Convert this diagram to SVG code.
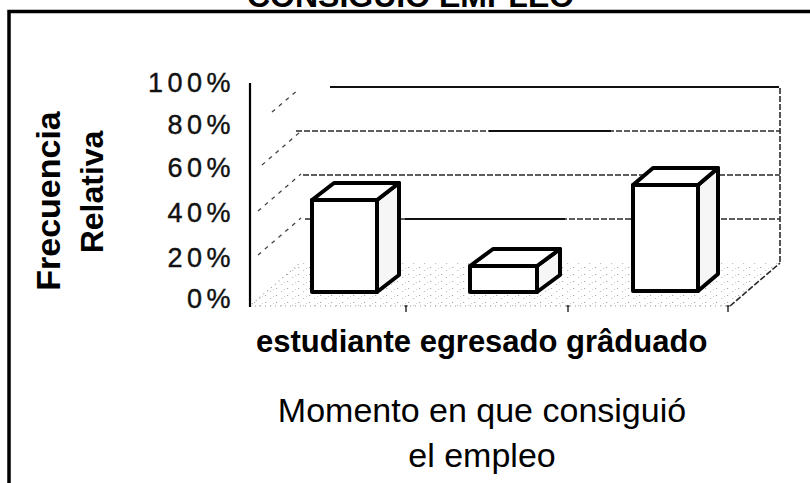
<svg xmlns="http://www.w3.org/2000/svg" width="810" height="483" viewBox="0 0 810 483">
<style>
.frame{fill:none;stroke:#000;stroke-width:3.5}
.ttl{font-family:"Liberation Sans",Arial,sans-serif;font-weight:bold;font-size:32px;fill:#000}
.ytick{font-family:"Liberation Sans",Arial,sans-serif;font-size:27px;letter-spacing:4.5px;text-anchor:end;fill:#111;stroke:#111;stroke-width:0.4}
.axt{font-family:"Liberation Sans",Arial,sans-serif;font-weight:bold;fill:#000;text-anchor:middle}
.cat{font-family:"Liberation Sans",Arial,sans-serif;font-weight:bold;font-size:31px;fill:#000}
.xt{font-family:"Liberation Sans",Arial,sans-serif;font-size:34px;fill:#000;text-anchor:middle}
.grid{fill:none;stroke:#2a2a2a;stroke-width:1.6;stroke-dasharray:6 2}
.solid{fill:none;stroke:#111;stroke-width:2.2}
.diag{fill:none;stroke:#444;stroke-width:1.3;stroke-dasharray:4 5}
.faint{fill:none;stroke:#999;stroke-width:1.2;stroke-dasharray:1 4}
.tick{fill:none;stroke:#222;stroke-width:1.4}
.box{stroke:#000;stroke-width:4;stroke-linejoin:round;fill:#fff}
.side{stroke:#000;stroke-width:4;stroke-linejoin:round;fill:#f6f6f6}
</style>
<defs>
<pattern id="stip" width="11" height="7" patternUnits="userSpaceOnUse">
<rect width="11" height="7" fill="#fff"/>
<rect x="1" y="1" width="1.2" height="1" fill="#a8a8a8"/>
<rect x="6" y="4" width="1.2" height="1" fill="#c0c0c0"/>
<rect x="9" y="2" width="1" height="1" fill="#cfcfcf"/>
</pattern>
</defs>
<rect width="810" height="483" fill="#fff"/>

<g id="title">
<text class="ttl" x="247" y="7.3">CONSIGUIÓ EMPLEO</text>
</g>
<g id="frame">
<path class="frame" d="M9 483 V11.5 H810"/>
</g>

<g id="y-axis-title">
<text class="axt" font-size="34" transform="translate(60,201) rotate(-90)">Frecuencia</text>
<text class="axt" font-size="32" transform="translate(103,192) rotate(-90)">Relativa</text>
</g>

<g id="y-ticks">
<text class="ytick" x="235" y="92">100%</text>
<text class="ytick" x="235" y="134">80%</text>
<text class="ytick" x="235" y="177">60%</text>
<text class="ytick" x="235" y="222">40%</text>
<text class="ytick" x="235" y="267">20%</text>
<text class="ytick" x="235" y="308">0%</text>
</g>

<g id="plot">
<polygon points="250,306 300,263 780,263 730,306" fill="url(#stip)"/>
<line class="faint" x1="250" y1="306" x2="730" y2="306"/>
<line class="faint" x1="252" y1="304" x2="300" y2="263"/>
<line class="grid" x1="730" y1="306" x2="780" y2="263"/>
<line class="grid" x1="780" y1="88" x2="780" y2="263"/>
<line class="solid" x1="330" y1="87" x2="779" y2="87"/>
<line class="grid" x1="296" y1="131" x2="780" y2="131"/>
<line class="solid" x1="489" y1="131" x2="611" y2="131"/>
<line class="grid" x1="303" y1="175" x2="780" y2="175"/>
<line class="grid" x1="305" y1="219" x2="780" y2="219"/>
<line class="solid" x1="405" y1="219" x2="565" y2="219"/>
<line class="diag" x1="272" y1="112" x2="299" y2="89"/>
<line class="diag" x1="262" y1="165" x2="300" y2="132"/>
<line class="diag" x1="258" y1="211" x2="301" y2="174"/>
<line class="diag" x1="258" y1="255" x2="301" y2="218"/>
<path class="tick" d="M406 306 v6 M404.5 306 h3 M568 306 v6 M566.5 306 h3 M728 306 v6 M726.5 306 h3"/>
<line x1="250" y1="83" x2="250" y2="307" stroke="#000" stroke-width="2.2"/>
</g>

<g id="bar-estudiante">
<polygon class="side" points="377,200 399,183 399,275 377,292"/>
<polygon class="box" points="312,200 334,183 399,183 377,200"/>
<rect class="box" x="312" y="200" width="65" height="92"/>
</g>
<g id="bar-egresado">
<polygon class="side" points="537,266 560,249 560,275 537,292"/>
<polygon class="box" points="470,266 493,249 560,249 537,266"/>
<rect class="box" x="470" y="266" width="67" height="26"/>
</g>
<g id="bar-graduado">
<polygon class="side" points="698,185 718,168 718,274 698,291"/>
<polygon class="box" points="633,185 653,168 718,168 698,185"/>
<rect class="box" x="633" y="185" width="65" height="106"/>
</g>

<g id="categories">
<text class="cat" x="256" y="352">estudiante egresado grâduado</text>
</g>

<g id="x-axis-title">
<text class="xt" x="482" y="422">Momento en que consiguió</text>
<text class="xt" x="482" y="467">el empleo</text>
</g>

<g id="partial-heading">
<text class="ttl" font-size="66" x="123" y="518">H</text>
</g>
</svg>
